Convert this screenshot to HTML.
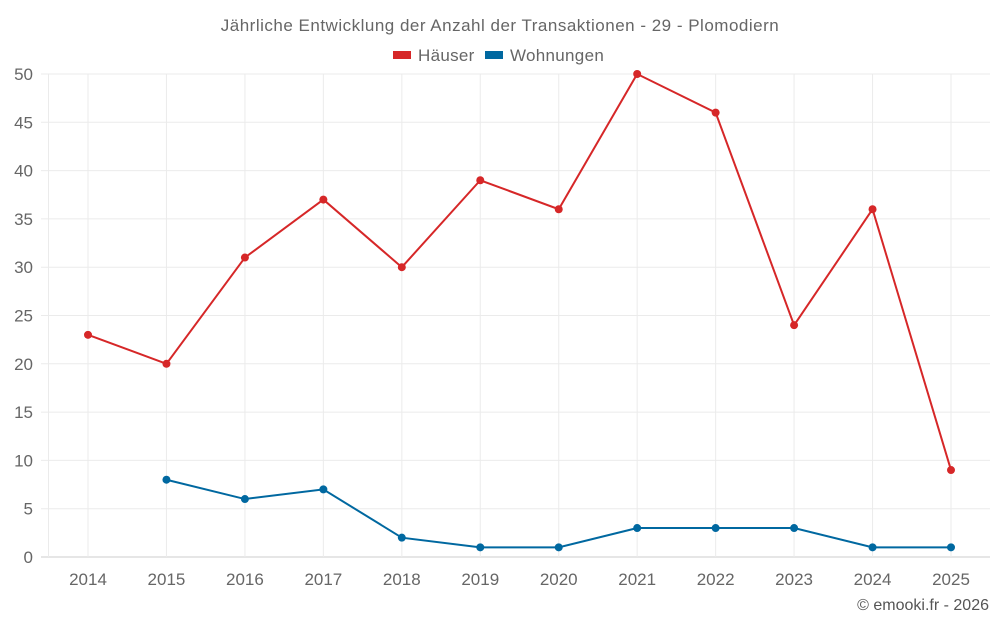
<!DOCTYPE html>
<html><head><meta charset="utf-8"><style>
body{margin:0;background:#fff;font-family:"Liberation Sans",sans-serif}
</style></head><body>
<svg id="c" width="1000" height="625" xmlns="http://www.w3.org/2000/svg">
<text x="500" y="31" text-anchor="middle" font-size="17" letter-spacing="0.5" fill="#666">Jährliche Entwicklung der Anzahl der Transaktionen - 29 - Plomodiern</text>
<g><rect x="393" y="51" width="18" height="8" fill="#d62728"/><text x="418" y="61" font-size="17" letter-spacing="0.3" fill="#666">Häuser</text></g>
<g><rect x="485" y="51" width="18" height="8" fill="#0068a0"/><text x="510" y="61" font-size="17" letter-spacing="0.3" fill="#666">Wohnungen</text></g>
<g id="grid"></g><g id="axes"></g><g id="series"></g>
<text x="989" y="610" text-anchor="end" font-size="16" fill="#555">© emooki.fr - 2026</text>
</svg>
<script>
const years=[2014,2015,2016,2017,2018,2019,2020,2021,2022,2023,2024,2025];
const haeuser=[23,20,31,37,30,39,36,50,46,24,36,9];
const wohnungen=[null,8,6,7,2,1,1,3,3,3,1,1];
const yTicks=[0,5,10,15,20,25,30,35,40,45,50];
const NS="http://www.w3.org/2000/svg";
const x=i=>88+i*(951-88)/11;
const y=v=>557-v*(557-74)/50;
function mk(t,a,p){const e=document.createElementNS(NS,t);for(const k in a)e.setAttribute(k,a[k]);p.appendChild(e);return e;}
const g=document.getElementById('grid'),ax=document.getElementById('axes'),s=document.getElementById('series');
yTicks.forEach(v=>{
 const l=mk('line',{x1:41,x2:990,y1:y(v),y2:y(v),stroke:v===0?'#ccc':'#ebebeb','stroke-width':1},g);
 
 
 const t=mk('text',{x:33,y:y(v)+6,'text-anchor':'end','font-size':17,fill:'#666'},ax);t.textContent=v;
 
 
});
const l0=mk('line',{x1:48.5,x2:48.5,y1:74,y2:557,stroke:'#ebebeb'},g);


years.forEach((yr,i)=>{
 const l=mk('line',{x1:x(i),x2:x(i),y1:74,y2:557,stroke:'#ebebeb'},g);
 
 
 const t=mk('text',{x:x(i),y:585,'text-anchor':'middle','font-size':17,fill:'#666'},ax);t.textContent=yr;
 
 
});
function series(vals,col,name){
 const pts=vals.map((v,i)=>v==null?null:[x(i),y(v)]).filter(p=>p);
 const pl=mk('polyline',{points:pts.map(p=>p.join(',')).join(' '),fill:'none',stroke:col,'stroke-width':2},s);
 
 
 pts.forEach(p=>{const c=mk('circle',{cx:p[0],cy:p[1],r:4,fill:col},s);
 
 });
}
series(haeuser,'#d62728','haeuser');
series(wohnungen,'#0068a0','wohnungen');
</script>
</body></html>
